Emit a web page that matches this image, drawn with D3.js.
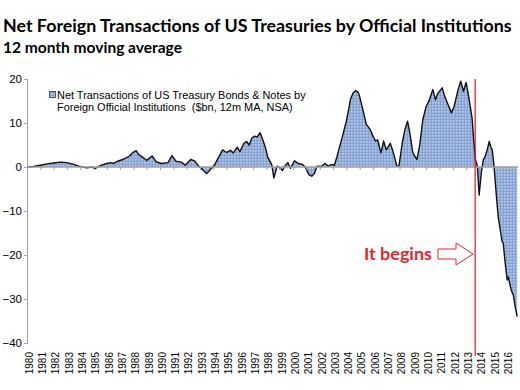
<!DOCTYPE html>
<html><head><meta charset="utf-8">
<script src="https://cdn.jsdelivr.net/npm/d3@7/dist/d3.min.js"></script>
<style>body{margin:0;background:#fff}svg{display:block}</style>
</head><body>
<svg id="c" width="520" height="390"></svg>
<script>
// Decimal year of each reading
const dates = [1980.0,1980.5,1981.0,1981.5,1982.0,1982.5,1983.0,1983.5,1984.0,1984.5,1984.9,1985.1,1985.5,1986.0,1986.3,1986.5,1986.8,1987.2,1987.7,1988.0,1988.2,1988.4,1988.7,1989.0,1989.4,1989.7,1990.1,1990.6,1990.9,1991.2,1991.6,1991.9,1992.3,1992.6,1992.9,1993.2,1993.5,1993.8,1994.1,1994.4,1994.7,1995.0,1995.3,1995.5,1995.8,1996.0,1996.3,1996.5,1996.7,1996.9,1997.1,1997.3,1997.5,1997.6,1997.9,1998.1,1998.4,1998.55,1998.8,1999.0,1999.2,1999.4,1999.6,1999.8,2000.1,2000.4,2000.7,2000.9,2001.2,2001.4,2001.6,2001.8,2002.1,2002.4,2002.6,2002.9,2003.1,2003.3,2003.7,2004.0,2004.2,2004.3,2004.5,2004.7,2004.9,2005.0,2005.3,2005.5,2005.8,2006.0,2006.2,2006.35,2006.6,2006.8,2007.0,2007.3,2007.5,2007.8,2007.95,2008.2,2008.4,2008.6,2008.75,2009.0,2009.3,2009.5,2009.75,2010.0,2010.2,2010.5,2010.7,2010.85,2011.2,2011.4,2011.6,2011.9,2012.1,2012.4,2012.6,2012.8,2013.0,2013.15,2013.45,2013.55,2013.7,2013.85,2013.98,2014.14,2014.29,2014.44,2014.59,2014.74,2014.89,2014.96,2015.1,2015.26,2015.41,2015.71,2015.79,2015.94,2016.09,2016.17,2016.39,2016.54,2016.69,2016.84];
// Net transactions, $bn, 12m moving average
const values = [0,0.1,0.4,0.7,0.9,1.1,1.0,0.6,0.1,-0.2,0.0,-0.4,0.3,0.8,1.0,0.8,1.3,1.7,2.5,3.4,3.7,2.8,2.2,1.5,2.5,1.2,0.8,1.0,2.6,1.3,1.1,0.4,1.7,1.4,0.2,-0.6,-1.5,-0.5,0.5,2.2,3.9,3.3,3.8,3.2,4.5,3.5,5.4,5.8,5.0,6.6,7.0,6.8,7.8,7.2,4.6,2.2,0.5,-2.5,0.2,-0.2,-0.8,0.3,1.0,-0.3,1.4,0.8,0.6,0.0,-1.8,-2.1,-1.5,0.2,0.1,0.8,0.2,0.6,0.4,2.4,6.9,10.4,13.5,15.3,16.8,17.4,16.9,16.0,12.3,9.7,8.5,7.0,5.9,6.2,3.2,5.9,3.9,5.4,3.6,0.2,0.2,5.4,8.5,10.4,8.1,3.2,1.7,4.7,10.8,13.8,14.9,17.6,15.3,16.6,18.0,16.0,14.5,12.3,13.8,17.6,19.5,17.2,19.2,16.8,11.1,6.9,1.7,0.2,-6.4,-1.4,1.6,2.4,4.0,5.8,4.3,4.0,0.2,-6.0,-11.3,-17.0,-17.3,-21.9,-25.7,-25.0,-28.0,-29.0,-31.8,-34.0];
const yearLabels = d3.range(1980, 2017).map(String);
const yTicks = [20,10,0,-10,-20,-30,-40];
const titleText = "Net Foreign Transactions of US Treasuries by Official Institutions";
const subtitleText = "12 month moving average";
const legendLines = ["Net Transactions of US Treasury Bonds & Notes by", "Foreign Official Institutions  ($bn, 12m MA, NSA)"];
const noteText = "It begins";
const markDate = 2013.68;

const data = dates.map((d,i)=>({d, v: values[i]}));
const svg = d3.select("#c");

const x = d3.scaleLinear().domain([1980, 2016.9]).range([27, 518]);
const y = d3.scaleLinear().domain([-40, 20]).range([343, 79]);

// pattern fill
const defs = svg.append("defs");
const pat = defs.append("pattern").attr("id","dots").attr("width",3).attr("height",3).attr("patternUnits","userSpaceOnUse");
pat.append("rect").attr("width",3).attr("height",3).attr("fill","#86a2d4");
pat.append("rect").attr("x",0).attr("y",0).attr("width",2).attr("height",2).attr("fill","#a3badf");
pat.append("rect").attr("x",0).attr("y",0).attr("width",1).attr("height",1).attr("fill","#c3d2ec");

// fit helper
function fit(sel, target){
  const w = sel.node().getComputedTextLength();
  const fs = parseFloat(sel.attr("font-size"));
  sel.attr("font-size", (fs*target/w).toFixed(2));
}

// titles
const t1 = svg.append("text").attr("x",3).attr("y",32).attr("font-family","Lato").attr("font-weight","bold").attr("font-size",16).attr("fill","#000").text(titleText);
fit(t1, 509);
const t2 = svg.append("text").attr("x",3).attr("y",52.5).attr("font-family","Lato").attr("font-weight","bold").attr("font-size",14).attr("fill","#000").text(subtitleText);
fit(t2, 179);

// area
const area = d3.area().x(d=>x(d.d)).y0(y(0)).y1(d=>y(d.v));
const line = d3.line().x(d=>x(d.d)).y(d=>y(d.v));
svg.append("path").datum(data).attr("d", area).attr("fill","url(#dots)");
svg.append("path").datum(data).attr("d", line).attr("fill","none").attr("stroke","#111").attr("stroke-width",1.4).attr("stroke-linejoin","round");

// y axis
const yAxis = svg.append("g").attr("transform",`translate(${x(1980)},0)`)
  .call(d3.axisLeft(y).tickValues(yTicks).tickSize(3).tickFormat(d3.format("d")));
yAxis.select(".domain").attr("stroke","#a6a6a6").attr("stroke-width",1.2);
yAxis.selectAll(".tick line").attr("stroke","#a6a6a6");
yAxis.selectAll(".tick text").attr("font-family","Liberation Sans, Arial, sans-serif").attr("font-size",11.5).attr("fill","#000").attr("x",-5);

// zero axis with year ticks
const xAxis = svg.append("g").attr("transform",`translate(0,${y(0)})`)
  .call(d3.axisBottom(x).tickValues(d3.range(1980, 2017)).tickSize(3).tickFormat(""));
xAxis.select(".domain").attr("stroke","#a0a0a0").attr("stroke-width",1.3).attr("d", `M${x(1980)},0H${x(2016.9)}`);
xAxis.selectAll(".tick line").attr("stroke","#a0a0a0");

// year labels at bottom
svg.append("g").selectAll("text").data(yearLabels).join("text")
  .attr("transform", d=>`translate(${x(+d)+5.8},352) rotate(-90)`)
  .attr("text-anchor","end")
  .attr("font-family","Liberation Sans, Arial, sans-serif").attr("font-size",10).attr("fill","#000")
  .text(d=>d);

// legend
const lg = svg.append("g");
lg.append("rect").attr("x",49.5).attr("y",91.5).attr("width",6).attr("height",6).attr("fill","url(#dots)").attr("stroke","#555").attr("stroke-width",1);
legendLines.forEach((s,i)=>{
  const t = lg.append("text").attr("x",57).attr("y",99+i*12.3).attr("font-family","Liberation Sans, Arial, sans-serif").attr("font-size",11).attr("fill","#000").attr("xml:space","preserve").style("white-space","pre").text(s);
  if(i===0) fit(t, 249);
  else t.attr("font-size", lg.select("text").attr("font-size"));
});

// red marker line
svg.append("line").attr("x1",x(markDate)).attr("x2",x(markDate)).attr("y1",y(20)).attr("y2",356).attr("stroke","#e0141e").attr("stroke-width",1.2);

// annotation
const nt = svg.append("text").attr("x",364).attr("y",259.5).attr("font-family","Lato").attr("font-weight","bold").attr("font-size",18).attr("fill","#e8262d").text(noteText);
fit(nt, 68);
const tipX = x(markDate) - 2, cy = 254;
const arrowPts = [[438,249],[456,249],[456,243],[tipX,cy],[456,265],[456,259],[438,259]];
svg.append("path").attr("d", d3.line()(arrowPts)+"Z").attr("fill","#fff").attr("stroke","#e8262d").attr("stroke-width",1);
</script>
</body></html>
